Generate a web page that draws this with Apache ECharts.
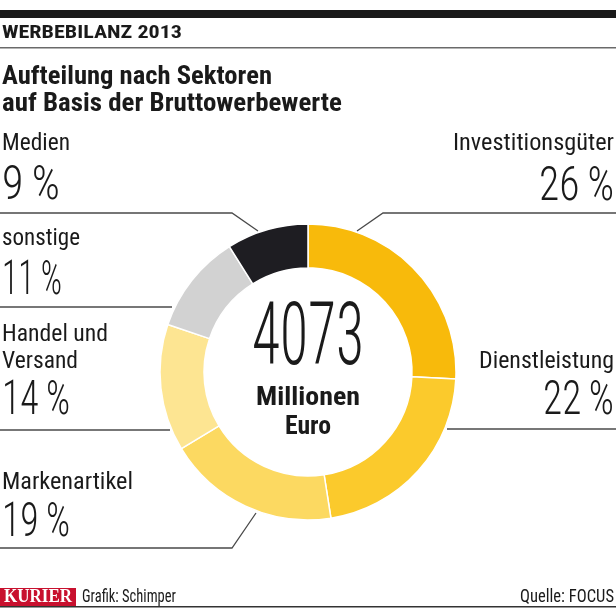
<!DOCTYPE html>
<html><head><meta charset="utf-8">
<script src="https://cdn.jsdelivr.net/npm/echarts@6/dist/echarts.min.js"></script>
<style>html,body{margin:0;padding:0;background:#fff}#c{width:616px;height:608px}</style>
</head><body><div id="c"></div>
<script>
// ---- data ----
var categories = ['Investitionsgüter', 'Dienstleistung', 'Markenartikel', 'Handel und Versand', 'sonstige', 'Medien'];
var shares = [26, 22, 19, 14, 11, 9];
var total = 4073;
var totalUnit = ['Millionen', 'Euro'];
var colors = ['#F8BA0B', '#FBCA2C', '#FCD961', '#FDE592', '#D2D2D2', '#1E1D22'];
var headline = 'WERBEBILANZ 2013';
var titleLines = ['Aufteilung nach Sektoren', 'auf Basis der Bruttowerbewerte'];
var credit = 'Grafik: Schimper';
var source = 'Quelle: FOCUS';
var brand = 'KURIER';

// ---- helpers ----
var cv = document.createElement('canvas').getContext('2d');
function measure(text, font) { cv.font = font; return cv.measureText(text).width; }
var COND = '"Roboto Condensed","Liberation Sans Narrow","DejaVu Sans Condensed",Roboto,sans-serif';
function txt(text, x, y, size, weight, targetW, align, family, fill) {
  var font = (weight || 'normal') + ' ' + size + 'px ' + (family || COND);
  var w = measure(text, font);
  var s = targetW ? targetW / w : 1;
  return {
    type: 'text', x: x, y: y, scaleX: s, originX: 0, originY: 0,
    style: { text: text, font: font, fill: fill || '#1a1a1a', textAlign: align || 'left', textVerticalAlign: 'middle' },
    z: 10
  };
}
function pct(i) { return shares[i] + '\u2009%'; }
var BIG = 48;
var LBL = 23;
var LINE = '#4a4a4a';
function poly(pts) { return { type: 'polyline', shape: { points: pts }, style: { stroke: LINE, lineWidth: 1.3, fill: null }, z: 5 }; }

var graphics = [
  { type: 'rect', shape: { x: 0, y: 10, width: 616, height: 8 }, style: { fill: '#1a1a1a' } },
  txt(headline, 2, 33, 19, 'bold', 180),
  { type: 'rect', shape: { x: 0, y: 47, width: 616, height: 1.5 }, style: { fill: '#6a6a6a' } },
  txt(titleLines[0], 2, 77, 26, 'bold', 270),
  txt(titleLines[1], 2, 104, 26, 'bold', 340),

  // Medien
  txt(categories[5], 2, 144, LBL, 'normal', 68),
  txt(pct(5), 2, 187, BIG, '300', 58),
  poly([[0, 213], [232, 213], [258, 231]]),
  // Investitionsgüter
  txt(categories[0], 614, 144, LBL, 'normal', 161, 'right'),
  txt(pct(0), 614, 188, BIG, '300', 75, 'right'),
  poly([[616, 213], [383, 213], [357, 231]]),
  // sonstige
  txt(categories[4], 2, 239, LBL, 'normal', 78),
  txt(pct(4), 2, 282, BIG, '300', 60),
  poly([[0, 307], [172, 307]]),
  // Handel und Versand
  txt('Handel und', 2, 335, LBL, 'normal', 106),
  txt('Versand', 2, 362, LBL, 'normal', 76),
  txt(pct(3), 2, 402, BIG, '300', 68),
  poly([[0, 430], [170, 430]]),
  // Markenartikel
  txt(categories[2], 2, 483, LBL, 'normal', 131),
  txt(pct(2), 2, 524, BIG, '300', 68),
  poly([[0, 548], [232, 548], [256, 513]]),
  // Dienstleistung
  txt(categories[1], 614, 362, LBL, 'normal', 135, 'right'),
  txt(pct(1), 614, 402, BIG, '300', 71, 'right'),
  poly([[447, 429], [616, 429]]),

  // center
  txt(String(total), 308 - 56, 342, 88, '300', 112),
  txt(totalUnit[0], 308 - 52, 399, 25, 'bold', 104),
  txt(totalUnit[1], 308 - 23, 428, 25, 'bold', 46),

  // footer
  { type: 'rect', shape: { x: 0, y: 588, width: 76, height: 18 }, style: { fill: '#C8102E' } },
  txt(brand, 4, 597.5, 18, 'bold', 68, 'left', '"Liberation Serif","DejaVu Serif",serif', '#ffffff'),
  txt(credit, 82, 597, 19, 'normal', 94),
  txt(source, 614, 597, 19, 'normal', 94, 'right'),
  { type: 'rect', shape: { x: 0, y: 606, width: 616, height: 1.5 }, style: { fill: '#333' } }
];

var chart = echarts.init(document.getElementById('c'), null, { renderer: 'canvas' });
chart.setOption({
  animation: false,
  backgroundColor: '#ffffff',
  series: [{
    type: 'pie',
    center: [308, 372],
    radius: [104, 148],
    startAngle: 90,
    clockwise: true,
    silent: true,
    label: { show: false },
    labelLine: { show: false },
    itemStyle: { borderColor: '#ffffff', borderWidth: 1.5 },
    data: categories.map(function (c, i) { return { name: c, value: shares[i], itemStyle: { color: colors[i] } }; })
  }],
  graphic: graphics
});
</script>
</body></html>
